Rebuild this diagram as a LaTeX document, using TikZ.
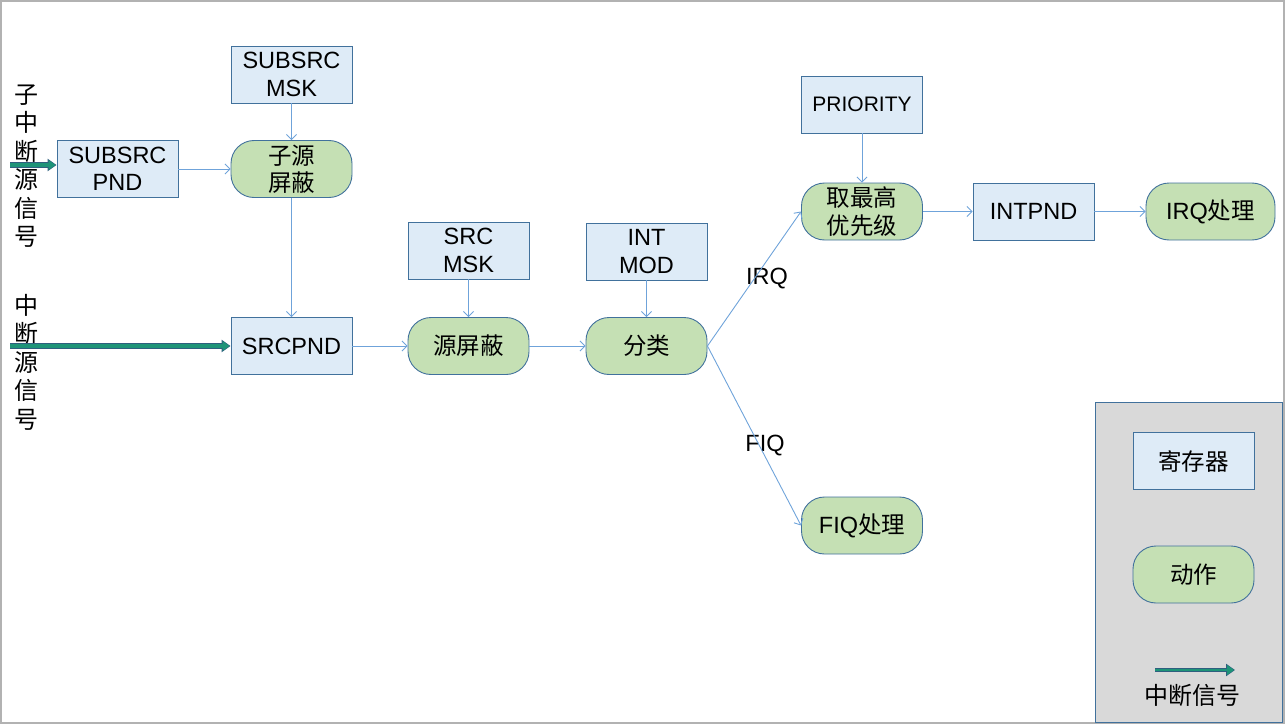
\documentclass[tikz,border=0pt]{standalone}
\usepackage{fontspec}
\setmainfont{Liberation Sans}
\newfontfamily\cjk{Noto Sans CJK SC}
\usetikzlibrary{arrows.meta}
\definecolor{regfill}{HTML}{DEEBF7}
\definecolor{actfill}{HTML}{C5E0B4}
\definecolor{edgeblue}{HTML}{41719C}
\definecolor{arrblue}{HTML}{6FA3DA}
\definecolor{siggreen}{HTML}{1E9478}
\definecolor{sigedge}{HTML}{2F5F7F}
\definecolor{legendgray}{HTML}{D9D9D9}
\begin{document}
\begin{tikzpicture}[x=1pt,y=-1pt,
  txt/.style={font=\fontsize{23.5}{27.5}\selectfont},
  reg/.style={txt,draw=edgeblue,fill=regfill,line width=0.9pt,minimum width=121pt,minimum height=57pt,inner sep=0pt,align=center},
  act/.style={txt,draw=edgeblue,fill=actfill,line width=0.9pt,rounded corners=23pt,minimum width=121pt,minimum height=57pt,inner sep=0pt,align=center},
  flow/.style={draw=arrblue,line width=0.9pt,-{Straight Barb[length=5pt,width=10pt]}},
  sigout/.style={draw=sigedge,line width=5.5pt,-{Triangle[length=9pt,width=12pt]}},
  sig/.style={draw=siggreen,line width=3.5pt,-{Triangle[length=7pt,width=9.5pt]}},
  vtxt/.style={font=\fontsize{24}{28.5}\selectfont\cjk,align=center,inner sep=0pt}
]
\useasboundingbox (0,0) rectangle (1286,725);
\draw[gray!60,line width=1.5pt] (1,1) rectangle (1284,723);

% legend background
\node[draw=edgeblue,fill=legendgray,line width=0.9pt,minimum width=187pt,minimum height=320pt,inner sep=0pt] (legend) at (1188.5,562) {};

% registers and actions
\node[reg] (submsk) at (291.5,74.5) {SUBSRC\\MSK};
\node[reg] (subpnd) at (117.5,169) {SUBSRC\\PND};
\node[act] (submask) at (291.5,169) {\cjk 子源\\\cjk 屏蔽};
\node[reg] (srcpnd) at (291.5,346) {SRCPND};
\node[reg] (srcmsk) at (468.5,250.5) {SRC\\MSK};
\node[act] (srcmask) at (468.5,346) {\cjk 源屏蔽};
\node[reg] (intmod) at (646.5,251.5) {INT\\MOD};
\node[act] (classify) at (646.5,346) {\cjk 分类};
\node[reg,font=\fontsize{21}{24}\selectfont] (priority) at (862,104.5) {PRIORITY};
\node[act] (highest) at (862,211.5) {\cjk 取最高\\\cjk 优先级};
\node[reg] (intpnd) at (1033.5,211.5) {INTPND};
\node[act,minimum width=129pt] (irq) at (1210.5,211.5) {IRQ{\cjk 处理}};
\node[act] (fiq) at (862,525.5) {FIQ{\cjk 处理}};

% labels
\node[txt] (irqlbl) at (767,279) {IRQ};
\node[txt] (fiqlbl) at (765,446) {FIQ};

% left vertical texts
\node[vtxt] (subsig) at (27,166) {子\\中\\断\\源\\信\\号};
\node[vtxt] (mainsig) at (27,362) {中\\断\\源\\信\\号};

% legend items
\node[reg] (lreg) at (1193.5,461) {\cjk 寄存器};
\node[act] (lact) at (1193.5,574.5) {\cjk 动作};
\coordinate (la) at (1155,670);
\coordinate (lb) at (1235,670);
\node[font=\fontsize{24}{28}\selectfont\cjk,inner sep=0pt] (lsig) at (1192,695) {中断信号};

% flows
\draw[flow] (subpnd.east) -- (submask.west);
\draw[flow] (submsk.south) -- (submask.north);
\draw[flow] (submask.south) -- (srcpnd.north);
\draw[flow] (srcpnd.east) -- (srcmask.west);
\draw[flow] (srcmsk.south) -- (srcmask.north);
\draw[flow] (srcmask.east) -- (classify.west);
\draw[flow] (intmod.south) -- (classify.north);
\draw[flow] (classify.east) -- (highest.west);
\draw[flow] (classify.east) -- (fiq.west);
\draw[flow] (priority.south) -- (highest.north);
\draw[flow] (highest.east) -- (intpnd.west);
\draw[flow] (intpnd.east) -- (irq.west);

% signal arrows
\coordinate (s1) at (10,165);
\coordinate (s2) at (10,346);
\draw[sigout] (s1) -- (subpnd.west |- s1);
\draw[sig,shorten >=1pt] (s1) -- (subpnd.west |- s1);
\draw[sigout] (s2) -- (srcpnd.west);
\draw[sig,shorten >=1pt] (s2) -- (srcpnd.west);
\draw[sigout,line width=4.5pt] (la) -- (lb);
\draw[sig,line width=2.5pt,shorten >=1pt] (la) -- (lb);
\end{tikzpicture}
\end{document}
